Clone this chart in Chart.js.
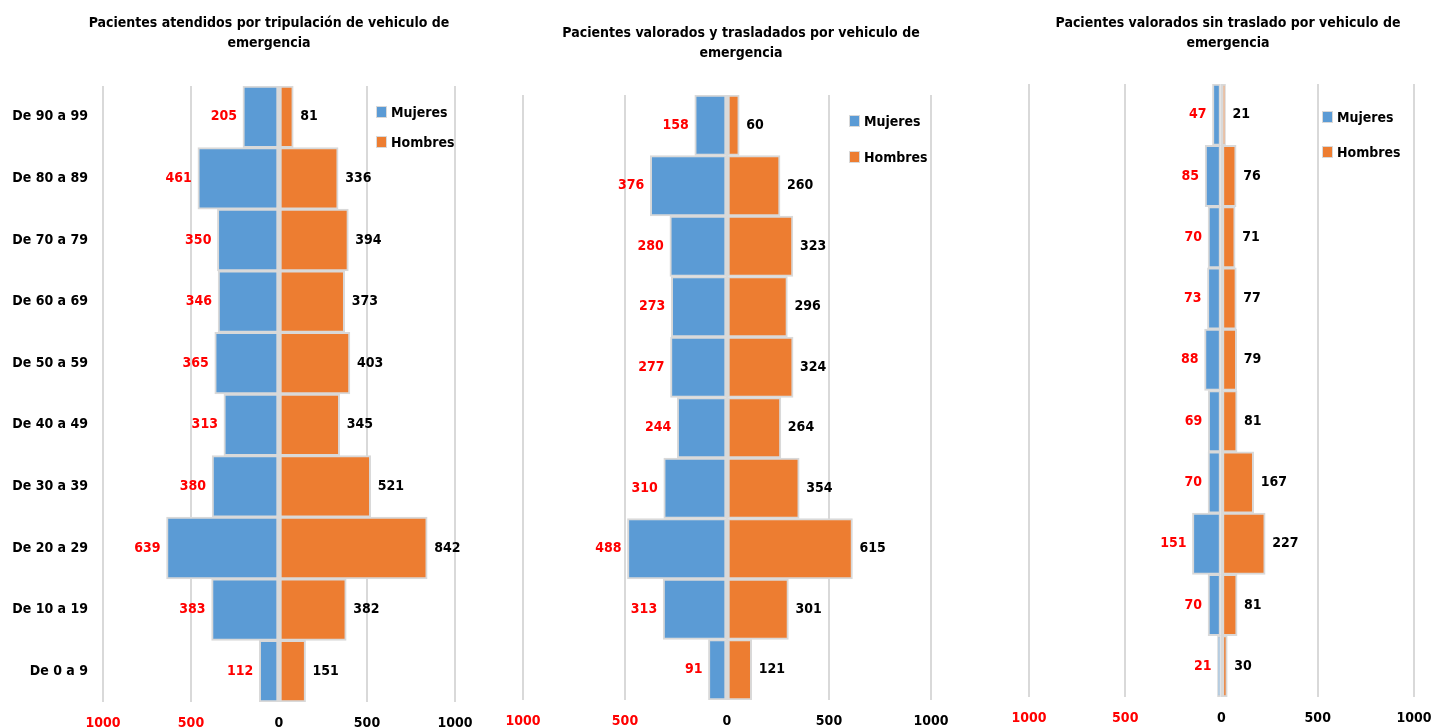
<!DOCTYPE html>
<html>
<head>
<meta charset="utf-8">
<script src="https://cdn.jsdelivr.net/npm/chart.js@4"></script>
<style>
  html, body { margin: 0; padding: 0; background: #ffffff; }
  body { width: 1434px; height: 727px; position: relative; overflow: hidden; }
  .box { position: absolute; top: 0; height: 727px; }
</style>
</head>
<body>
<div class="box" id="b1" style="left:0px;width:538px"><canvas id="c1"></canvas></div>
<div class="box" id="b2" style="left:500px;width:482px"><canvas id="c2"></canvas></div>
<div class="box" id="b3" style="left:1000px;width:434px"><canvas id="c3"></canvas></div>
<script>
// ---- data ----
const ageGroups = ["De 0 a 9", "De 10 a 19", "De 20 a 29", "De 30 a 39", "De 40 a 49",
                   "De 50 a 59", "De 60 a 69", "De 70 a 79", "De 80 a 89", "De 90 a 99"];
const xTickValues = [-1000, -500, 0, 500, 1000];
const seriesNames = ["Mujeres", "Hombres"];

const titleAtendidos = ["Pacientes atendidos por tripulación de vehiculo de", "emergencia"];
const mujeresAtendidos = [112, 383, 639, 380, 313, 365, 346, 350, 461, 205];
const hombresAtendidos = [151, 382, 842, 521, 345, 403, 373, 394, 336, 81];

const titleTrasladados = ["Pacientes valorados y trasladados por vehiculo de", "emergencia"];
const mujeresTrasladados = [91, 313, 488, 310, 244, 277, 273, 280, 376, 158];
const hombresTrasladados = [121, 301, 615, 354, 264, 324, 296, 323, 260, 60];

const titleSinTraslado = ["Pacientes valorados sin traslado por vehiculo de", "emergencia"];
const mujeresSinTraslado = [21, 70, 151, 70, 69, 88, 73, 70, 85, 47];
const hombresSinTraslado = [30, 81, 227, 167, 81, 79, 77, 71, 76, 21];

// ---- styling ----
const FONT = '"DejaVu Sans Condensed", "DejaVu Sans", sans-serif';
const FS = 14;
const BLUE = '#5B9BD5';
const ORANGE = '#ED7D31';
const GRID = '#D9D9D9';

const valueLabels = {
  id: 'valueLabels',
  afterDatasetsDraw(chart) {
    const ctx = chart.ctx;
    ctx.save();
    ctx.font = 'bold ' + FS + 'px ' + FONT;
    ctx.textBaseline = 'middle';
    chart.data.datasets.forEach((ds, di) => {
      const meta = chart.getDatasetMeta(di);
      meta.data.forEach((el, i) => {
        const v = ds.data[i];
        if (v < 0) {
          ctx.fillStyle = '#FF0000';
          ctx.textAlign = 'right';
          ctx.fillText(String(Math.abs(v)), el.x - 6, el.y);
        } else {
          ctx.fillStyle = '#000000';
          ctx.textAlign = 'left';
          ctx.fillText(String(Math.abs(v)), el.x + 7, el.y);
        }
      });
    });
    ctx.restore();
  }
};

const insideLegend = {
  id: 'insideLegend',
  afterDraw(chart, args, opts) {
    const ctx = chart.ctx;
    ctx.save();
    ctx.font = 'bold ' + FS + 'px ' + FONT;
    ctx.textBaseline = 'middle';
    ctx.textAlign = 'left';
    chart.data.datasets.forEach((ds, i) => {
      const y = opts.y + i * opts.gap;
      ctx.fillStyle = ds.backgroundColor;
      ctx.fillRect(opts.x, y - 5, 9, 10);
      ctx.strokeStyle = GRID;
      ctx.lineWidth = 1;
      ctx.strokeRect(opts.x - 0.5, y - 5.5, 10, 11);
      ctx.fillStyle = '#000000';
      ctx.fillText(ds.label, opts.x + 14, y + 1);
    });
    ctx.restore();
  }
};

function makeChart(id, title, women, men, cfg) {
  return new Chart(document.getElementById(id), {
    type: 'bar',
    data: {
      labels: ageGroups,
      datasets: [
        { label: seriesNames[0], data: women.map(v => -v), backgroundColor: BLUE,
          borderColor: GRID, borderWidth: 2, borderSkipped: false, yAxisID: 'y' },
        { label: seriesNames[1], data: men, backgroundColor: ORANGE,
          borderColor: GRID, borderWidth: 2, borderSkipped: false, yAxisID: 'y' }
      ]
    },
    options: {
      indexAxis: 'y',
      responsive: true,
      maintainAspectRatio: false,
      animation: false,
      layout: { padding: { left: cfg.padLeft, right: 0, top: 0, bottom: 0 } },
      datasets: { bar: { barPercentage: 1, categoryPercentage: 1 } },
      scales: {
        x: {
          stacked: true,
          min: -1000, max: 1000,
          afterBuildTicks: s => { s.ticks = xTickValues.map(v => ({ value: v })); },
          afterFit: s => { s.height = cfg.xHeight; s.paddingLeft = 0; s.paddingRight = 0; },
          grid: { color: GRID, lineWidth: 2, drawTicks: false },
          border: { display: false },
          ticks: {
            autoSkip: false, maxRotation: 0, padding: 13,
            font: { family: FONT, size: FS, weight: 'bold' },
            color: c => (c.tick && c.tick.value < 0) ? '#FF0000' : '#000000',
            callback: v => String(Math.abs(v))
          }
        },
        y: {
          stacked: true,
          reverse: true,
          position: 'left',
          afterFit: s => { s.width = cfg.yWidth; s.paddingTop = 0; s.paddingBottom = 0; },
          grid: { display: false, drawTicks: false },
          border: { display: false },
          ticks: {
            display: cfg.showY, padding: 15,
            font: { family: FONT, size: FS, weight: 'bold' },
            color: '#000000'
          }
        },
        y2: {
          position: 'right',
          type: 'linear',
          afterFit: s => { s.width = cfg.rightWidth; },
          grid: { display: false, drawTicks: false },
          border: { display: false },
          ticks: { display: false }
        }
      },
      plugins: {
        legend: { display: false },
        tooltip: { enabled: false },
        title: {
          display: true,
          text: title,
          color: '#000000',
          font: { family: FONT, size: FS, weight: 'bold', lineHeight: 20 / FS },
          padding: { top: cfg.titleTop, bottom: cfg.titleBottom }
        },
        insideLegend: cfg.legend
      }
    },
    plugins: [valueLabels, insideLegend]
  });
}

makeChart('c1', titleAtendidos, mujeresAtendidos, hombresAtendidos,
  { padLeft: 0, yWidth: 103, rightWidth: 83, xHeight: 25, titleTop: 13, titleBottom: 33, showY: true,
    legend: { x: 377, y: 112, gap: 30 } });
makeChart('c2', titleTrasladados, mujeresTrasladados, hombresTrasladados,
  { padLeft: 0, yWidth: 23, rightWidth: 51, xHeight: 27, titleTop: 23, titleBottom: 32, showY: false,
    legend: { x: 350, y: 121, gap: 36 } });
makeChart('c3', titleSinTraslado, mujeresSinTraslado, hombresSinTraslado,
  { padLeft: 22, yWidth: 7, rightWidth: 20, xHeight: 30, titleTop: 13, titleBottom: 31, showY: false,
    legend: { x: 323, y: 117, gap: 35 } });
</script>
</body>
</html>
